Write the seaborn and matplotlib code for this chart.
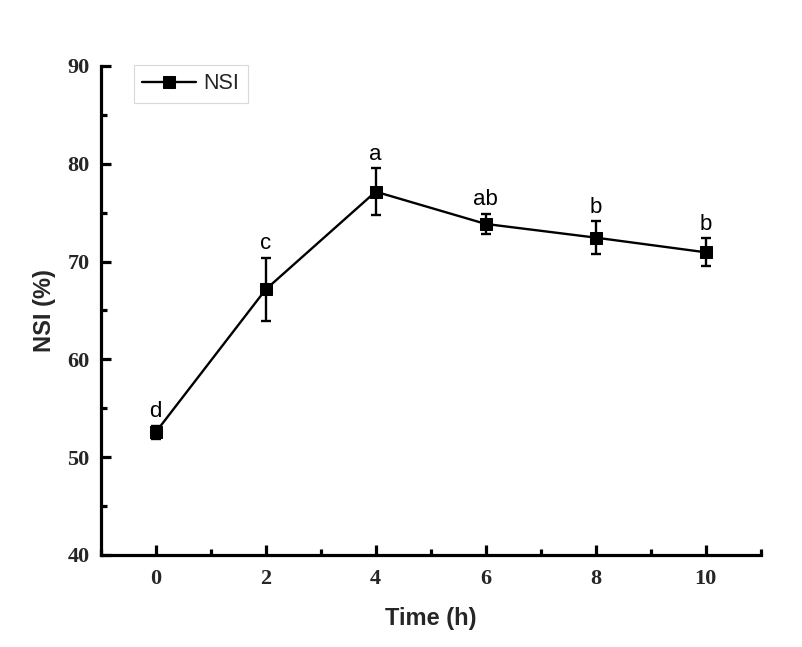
import matplotlib
matplotlib.use("Agg")
import matplotlib.pyplot as plt
import seaborn as sns
import pandas as pd
from matplotlib.ticker import MultipleLocator

# Data
time_h = [0, 2, 4, 6, 8, 10]
nsi = [52.55, 67.15, 77.15, 73.85, 72.45, 70.95]
nsi_err = [0.68, 3.24, 2.37, 1.06, 1.70, 1.45]
letters = ["d", "c", "a", "ab", "b", "b"]

df = pd.DataFrame({"Time": time_h, "NSI": nsi, "err": nsi_err, "letter": letters})

sns.set_theme(style="ticks")
plt.rcParams["font.family"] = ["Liberation Sans", "DejaVu Sans"]

fig = plt.figure(figsize=(8.03, 6.47), dpi=100)
ax = fig.add_axes([0.1254, 0.1422, 0.9473 - 0.1254, 0.898 - 0.1422])

ax.errorbar(df["Time"], df["NSI"], yerr=df["err"], fmt="none", ecolor="black",
            elinewidth=1.7, capsize=3.3, capthick=1.7, zorder=3)
sns.lineplot(data=df, x="Time", y="NSI", ax=ax, color="black", linewidth=1.7,
             marker="s", markersize=8, markeredgecolor="black", markerfacecolor="black",
             label="NSI", zorder=4)

for x, y, e, t in zip(df["Time"], df["NSI"], df["err"], df["letter"]):
    ax.annotate(t, (x, y + e), xytext=(0, 6), textcoords="offset points",
                ha="center", va="baseline", fontsize=16, color="black",
                family="Liberation Sans")

ax.set_xlim(-1, 11)
ax.set_ylim(40, 90)
ax.set_xticks([0, 2, 4, 6, 8, 10])
ax.set_yticks([40, 50, 60, 70, 80, 90])
ax.xaxis.set_minor_locator(MultipleLocator(1))
ax.yaxis.set_minor_locator(MultipleLocator(5))

for side in ["top", "right"]:
    ax.spines[side].set_visible(False)
for side in ["left", "bottom"]:
    ax.spines[side].set_linewidth(2.3)
    ax.spines[side].set_color("black")

ax.tick_params(axis="both", which="major", direction="in", length=7, width=2.3,
               color="black", labelsize=16, pad=8)
ax.tick_params(axis="x", which="major", pad=10)
ax.tick_params(axis="both", which="minor", direction="in", length=4, width=2.3,
               color="black")
for lab in ax.get_xticklabels() + ax.get_yticklabels():
    lab.set_family("Liberation Serif")
    lab.set_fontweight("bold")

ax.set_xlabel("Time (h)", fontsize=17, fontweight="bold", labelpad=13)
ax.set_ylabel("NSI (%)", fontsize=17, fontweight="bold", labelpad=8)

leg = ax.legend(loc="upper left", bbox_to_anchor=(0.05, 1.003), borderaxespad=0,
                frameon=True, fancybox=False, fontsize=15.5, handlelength=2.5,
                handletextpad=0.35, borderpad=0.4, edgecolor="#d0d0d0")
leg.get_frame().set_linewidth(0.8)

fig.savefig("out.png", dpi=100, facecolor="white")
